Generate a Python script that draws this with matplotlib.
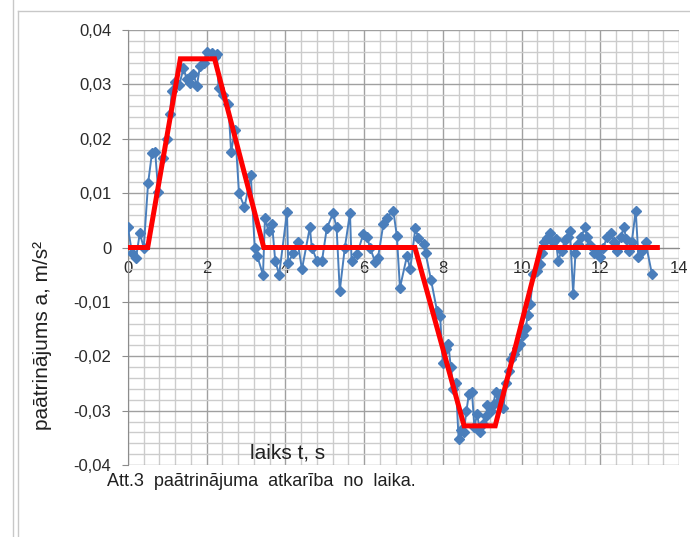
import numpy as np
import matplotlib
matplotlib.use("Agg")
import matplotlib.pyplot as plt
from matplotlib.ticker import FuncFormatter, MultipleLocator
from matplotlib.lines import Line2D

plt.rcParams['font.family'] = ['Liberation Sans', 'DejaVu Sans']

# measured acceleration (blue, with markers)
t_meas = [0.00, 0.10, 0.20, 0.30, 0.40, 0.51, 0.61, 0.69, 0.77, 0.88,
          0.99, 1.07, 1.11, 1.19, 1.30, 1.41, 1.49, 1.57, 1.66, 1.75,
          1.83, 1.92, 2.00, 2.13, 2.20, 2.26, 2.30, 2.42, 2.55, 2.62,
          2.72, 2.82, 2.96, 3.12, 3.22, 3.28, 3.43, 3.48, 3.57, 3.66,
          3.74, 3.84, 4.04, 4.07, 4.20, 4.31, 4.42, 4.62, 4.67, 4.80,
          4.93, 5.05, 5.21, 5.30, 5.38, 5.51, 5.64, 5.68, 5.82, 5.98,
          6.07, 6.15, 6.28, 6.35, 6.49, 6.57, 6.74, 6.83, 6.91, 7.09,
          7.17, 7.30, 7.38, 7.51, 7.56, 7.70, 7.85, 7.93, 8.00, 8.07,
          8.14, 8.20, 8.27, 8.33, 8.40, 8.47, 8.53, 8.60, 8.66, 8.74,
          8.80, 8.87, 8.95, 9.03, 9.10, 9.13, 9.22, 9.29, 9.34, 9.40,
          9.46, 9.54, 9.60, 9.67, 9.74, 9.80, 9.88, 9.97, 10.04, 10.10,
          10.16, 10.22, 10.30, 10.40, 10.46, 10.52, 10.58, 10.64, 10.72, 10.80,
          10.87, 10.93, 11.02, 11.10, 11.17, 11.23, 11.31, 11.37, 11.43, 11.52,
          11.61, 11.67, 11.75, 11.83, 11.92, 12.00, 12.08, 12.17, 12.26, 12.35,
          12.43, 12.52, 12.60, 12.66, 12.72, 12.80, 12.90, 12.97, 13.06, 13.15,
          13.31]
a_meas = [0.0037, -0.0010, -0.0020, 0.0026, 0.0000, 0.0118, 0.0174, 0.0176, 0.0102, 0.0165,
          0.0200, 0.0245, 0.0287, 0.0305, 0.0298, 0.0330, 0.0310, 0.0303, 0.0320, 0.0297,
          0.0334, 0.0340, 0.0360, 0.0358, 0.0350, 0.0355, 0.0294, 0.0280, 0.0263, 0.0176,
          0.0217, 0.0100, 0.0074, 0.0133, 0.0000, -0.0015, -0.0050, 0.0054, 0.0030, 0.0044,
          -0.0024, -0.0050, 0.0065, -0.0028, -0.0010, 0.0010, -0.0040, 0.0037, 0.0000, -0.0024,
          -0.0024, 0.0035, 0.0063, 0.0037, -0.0080, 0.0000, 0.0063, -0.0024, -0.0012, 0.0025,
          0.0020, 0.0000, -0.0027, -0.0020, 0.0044, 0.0055, 0.0068, 0.0022, -0.0074, -0.0015,
          -0.0040, 0.0035, 0.0017, 0.0007, -0.0010, -0.0060, -0.0116, -0.0126, -0.0213, -0.0187,
          -0.0178, -0.0219, -0.0260, -0.0250, -0.0352, -0.0335, -0.0340, -0.0300, -0.0270, -0.0265,
          -0.0330, -0.0307, -0.0340, -0.0324, -0.0310, -0.0289, -0.0300, -0.0287, -0.0265, -0.0285,
          -0.0270, -0.0296, -0.0250, -0.0228, -0.0205, -0.0196, -0.0185, -0.0178, -0.0160, -0.0148,
          -0.0125, -0.0104, -0.0048, -0.0043, -0.0030, -0.0011, 0.0010, 0.0017, 0.0026, 0.0010,
          0.0015, -0.0024, -0.0006, 0.0013, 0.0020, 0.0031, -0.0085, -0.0010, 0.0007, 0.0020,
          0.0037, 0.0019, 0.0005, -0.0011, -0.0005, -0.0018, 0.0000, 0.0019, 0.0026, 0.0010,
          -0.0006, 0.0020, 0.0037, 0.0015, -0.0006, 0.0010, 0.0068, -0.0018, -0.0006, 0.0010,
          -0.0048]

# idealised trapezoid model (red)
t_model = [0.0, 0.5, 1.33, 2.2, 3.45, 7.29, 8.54, 9.33, 10.49, 13.45]
a_model = [0.0, 0.0, 0.0347, 0.0347, 0.0, 0.0, -0.0328, -0.0328, 0.0, 0.0]

x_ticks = [0, 2, 4, 6, 8, 10, 12, 14]
y_ticks = [-0.04, -0.03, -0.02, -0.01, 0, 0.01, 0.02, 0.03, 0.04]

fig = plt.figure(figsize=(6.9, 5.37), dpi=100)
ax = fig.add_axes([128 / 690, 1 - 465 / 537, 551 / 690, 435 / 537])

ax.set_xlim(0, 14)
ax.set_ylim(-0.04, 0.04)
ax.set_xticks(x_ticks)
ax.set_yticks(y_ticks)
ax.xaxis.set_minor_locator(MultipleLocator(0.4))
ax.yaxis.set_minor_locator(MultipleLocator(0.002))
ax.grid(which='major', color='#a0a0a0', lw=1.0)
ax.grid(which='minor', color='#cccccc', lw=1.0)
ax.set_axisbelow(True)

ax.yaxis.set_major_formatter(FuncFormatter(
    lambda v, p: '0' if abs(v) < 1e-9 else f'{v:.2f}'.replace('.', ',')))

for s in ['top', 'right']:
    ax.spines[s].set_visible(False)
ax.spines['left'].set_color('#8c8c8c')
ax.spines['bottom'].set_position(('data', 0))
ax.spines['bottom'].set_color('#8c8c8c')

ax.tick_params(axis='y', which='major', direction='out', length=4, color='#8c8c8c',
               pad=8, labelsize=12, labelcolor='#2a2a2a')
ax.tick_params(axis='x', which='major', length=0, pad=10, labelsize=12, labelcolor='#2a2a2a')
ax.tick_params(which='minor', length=0)

ax.plot(t_meas, a_meas, color='#4a7ebb', lw=1.4, marker='D', markersize=5, zorder=3)
ax.plot(t_model, a_model, color='#ff0000', lw=3.6, zorder=4, solid_joinstyle='miter')

fig.text(43 / 690, 1 - 335 / 537, 'paātrinājums a, m/s²', rotation=90,
         ha='center', va='center', fontsize=15, color='#202020')
fig.text(288 / 690, 1 - 453 / 537, 'laiks t, s', ha='center', va='center',
         fontsize=15, color='#202020')
fig.text(107 / 690, 1 - 482 / 537, 'Att.3  paātrinājuma  atkarība  no  laika.', ha='left',
         va='center', fontsize=13, color='#202020')

# page / chart frame lines
fig.add_artist(Line2D([13 / 690, 13 / 690], [0, 1], color='#c8c8c8', lw=1))
fig.add_artist(Line2D([18 / 690, 18 / 690], [0, 1 - 11 / 537], color='#c8c8c8', lw=1))
fig.add_artist(Line2D([18 / 690, 1], [1 - 11 / 537, 1 - 11 / 537], color='#c8c8c8', lw=1))

fig.savefig('out.png', dpi=100)
